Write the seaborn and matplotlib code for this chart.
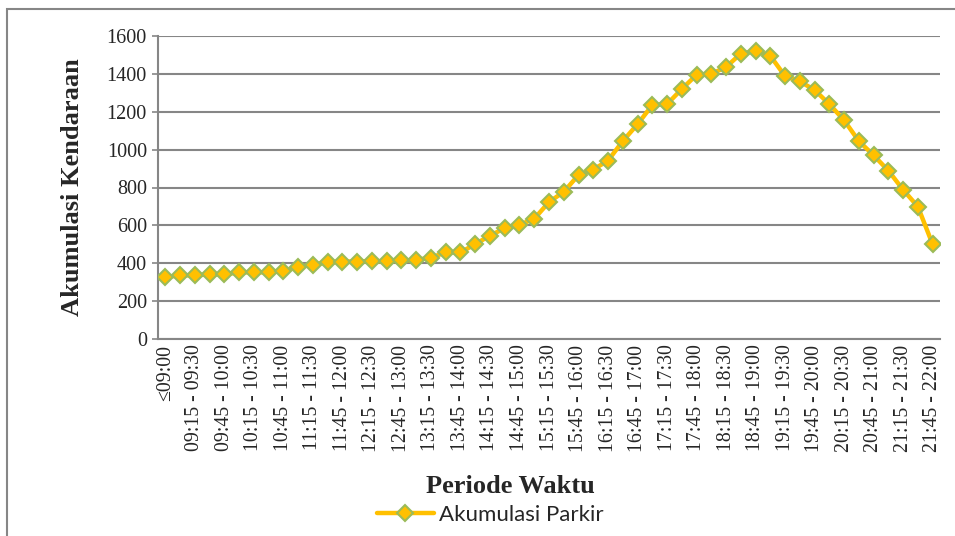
import seaborn as sns
import matplotlib.pyplot as plt
import pandas as pd
from matplotlib.patches import Rectangle

# 15-minute periods, first one is "<= 09:00"
periods = ["≤09:00"]
for h in range(9, 22):
    for m in (0, 15, 30, 45):
        h2, m2 = (h, m + 15) if m < 45 else (h + 1, 0)
        periods.append(f"{h:02d}:{m:02d} - {h2:02d}:{m2:02d}")

accumulation = [327, 336, 336, 341, 341, 352, 352, 352, 359, 380,
                393, 405, 409, 409, 412, 410, 415, 417, 430, 457,
                457, 501, 546, 585, 603, 635, 723, 777, 866, 895,
                942, 1045, 1134, 1235, 1240, 1320, 1395, 1400, 1436, 1507,
                1520, 1495, 1388, 1360, 1315, 1240, 1155, 1045, 970, 889,
                788, 699, 500]

df = pd.DataFrame({"Periode": periods, "Akumulasi": accumulation})

sns.set_style("white")
plt.rcParams["font.family"] = ["Liberation Serif", "DejaVu Sans"]

fig = plt.figure(figsize=(9.55, 5.36), dpi=100)
ax = fig.add_axes([158 / 955, 1 - 339 / 536, 782 / 955, 303 / 536])

sns.lineplot(data=df, x="Periode", y="Akumulasi", ax=ax, sort=False,
             color="#FFC000", linewidth=3.2, marker="D", markersize=8.6,
             markerfacecolor="#FFC000", markeredgecolor="#9BBB59",
             markeredgewidth=1.5, label="Akumulasi Parkir", zorder=3)

ax.set_xlim(-0.5, len(periods) - 0.5)
ax.set_ylim(0, 1600)
ax.set_yticks(range(0, 1601, 200))
ax.set_xticks(range(0, len(periods), 2))
ax.set_xticklabels(periods[::2], rotation=90)
ax.tick_params(axis="x", length=0, labelsize=14.3, pad=4)
ax.tick_params(axis="y", length=4, width=1.2, color="#868686", labelsize=14.5, pad=4, left=True)

ax.yaxis.grid(True, color="#868686", linewidth=1.5)
ax.set_axisbelow(True)
for side in ["top", "right"]:
    ax.spines[side].set_visible(False)
for side in ["left", "bottom"]:
    ax.spines[side].set_color("#868686")
    ax.spines[side].set_linewidth(1.5)

ax.set_ylabel("Akumulasi Kendaraan", fontsize=19, fontweight="bold")
ax.yaxis.set_label_coords(-0.095, 0.5)
ax.set_xlabel("Periode Waktu", fontsize=19, fontweight="bold")
ax.xaxis.set_label_coords(0.451, -0.449)

ax.legend(loc="center", bbox_to_anchor=(490 / 955, 1 - 515 / 536),
          bbox_transform=fig.transFigure, frameon=False, handlelength=2.6,
          handletextpad=0.2, prop={"family": "Lato", "size": 16})

# chart area border
fig.patches.append(Rectangle((7 / 955, -0.05), 1.1, 1 - 9 / 536 + 0.05,
                             transform=fig.transFigure, fill=False,
                             edgecolor="#868686", linewidth=1.5))

fig.savefig("out.png", dpi=100)
